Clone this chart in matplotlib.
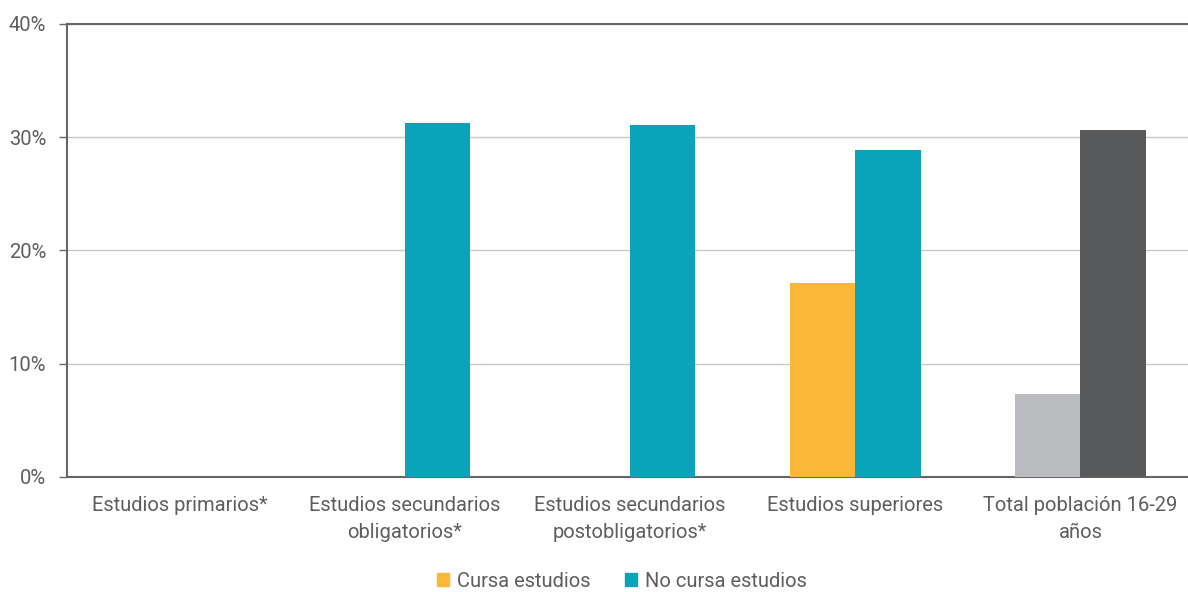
import numpy as np
import matplotlib.pyplot as plt
from matplotlib.patches import Patch

plt.rcParams['font.family'] = ['Roboto', 'DejaVu Sans']

# Data
categories = ['Estudios primarios*', 'Estudios secundarios\nobligatorios*',
              'Estudios secundarios\npostobligatorios*', 'Estudios superiores',
              'Total población 16-29\naños']
cursa = [np.nan, np.nan, np.nan, 17.1, 7.3]
no_cursa = [np.nan, 31.3, 31.1, 28.9, 30.6]
yticks = [0, 10, 20, 30, 40]

orange = '#FBB738'
teal = '#0AA3BA'
light_grey = '#BBBCC0'
dark_grey = '#58595B'
text_col = '#5E5E5E'

cursa_colors = [orange] * 4 + [light_grey]
no_cursa_colors = [teal] * 4 + [dark_grey]

fig = plt.figure(figsize=(11.88, 5.92), dpi=100)
ax = fig.add_axes([67 / 1188, 1 - 477 / 592, (1193 - 67) / 1188, (477 - 24) / 592])

x = np.arange(len(categories))
w = 0.29
ax.bar(x - w / 2, cursa, w, color=cursa_colors, zorder=3)
ax.bar(x + w / 2, no_cursa, w, color=no_cursa_colors, zorder=3)

ax.set_xlim(-0.5, len(categories) - 0.5)
ax.set_ylim(0, 40)
ax.set_yticks(yticks)
ax.set_yticklabels([f'{t}%' for t in yticks])
ax.set_xticks(x)
ax.set_xticklabels(categories, linespacing=1.5)

ax.yaxis.grid(True, color='#C8C8C8', linewidth=1, zorder=0)
ax.tick_params(axis='y', length=6, width=1, color='#666666', labelcolor=text_col,
               labelsize=14.5, pad=9)
ax.tick_params(axis='x', length=0, labelcolor=text_col, labelsize=14.5, pad=14)

for s in ['left', 'bottom', 'top']:
    ax.spines[s].set_color('#666666')
    ax.spines[s].set_linewidth(1.5)
ax.spines['right'].set_visible(False)

handles = [Patch(color=orange, label='Cursa estudios'),
           Patch(color=teal, label='No cursa estudios')]
leg = fig.legend(handles=handles, loc='center', bbox_to_anchor=(622 / 1188, 0.018), ncol=2,
                 frameon=False, fontsize=14.5, handlelength=0.6, handleheight=0.6,
                 handletextpad=0.4, columnspacing=1.7, borderpad=0)
for t in leg.get_texts():
    t.set_color(text_col)

fig.savefig('out.png', dpi=100)
